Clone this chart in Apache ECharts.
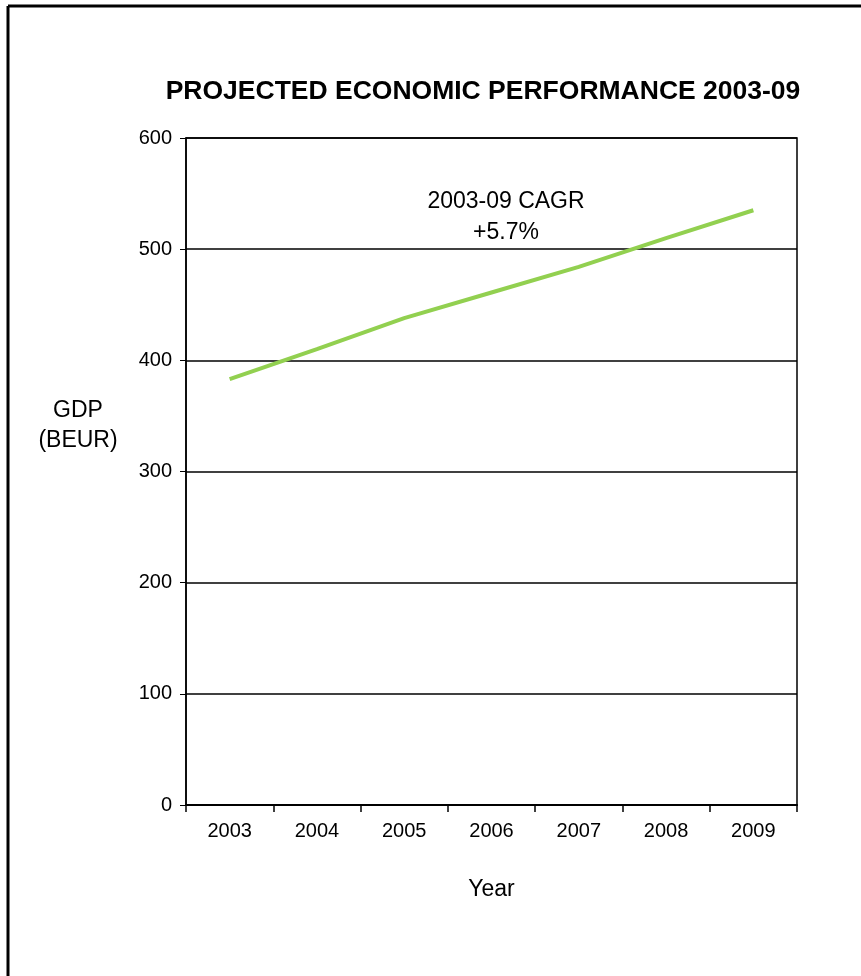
<!DOCTYPE html>
<html>
<head>
<meta charset="utf-8">
<script src="https://cdn.jsdelivr.net/npm/echarts@6/dist/echarts.min.js"></script>
<style>
  html, body { margin: 0; padding: 0; background: #fff; }
  #chart { width: 861px; height: 976px; }
</style>
</head>
<body>
<div id="chart"></div>
<script>
// GDP projection, billions of euros
const years = ['2003', '2004', '2005', '2006', '2007', '2008', '2009'];
const gdp = [383, 410, 438, 461, 484, 510, 535];
const yTicks = [0, 100, 200, 300, 400, 500, 600];

const chart = echarts.init(document.getElementById('chart'));
const font = 'Arial, "Liberation Sans", sans-serif';

chart.setOption({
  animation: false,
  backgroundColor: '#fff',
  title: {
    text: 'PROJECTED ECONOMIC PERFORMANCE 2003-09',
    left: 478,
    top: 73,
    textAlign: 'center',
    textStyle: { fontFamily: font, fontSize: 26.5, fontWeight: 'bold', color: '#000' }
  },
  grid: {
    left: 186, right: 64, top: 138, bottom: 171,
    show: true, borderColor: '#000', borderWidth: 1.5
  },
  xAxis: {
    type: 'category',
    data: years,
    boundaryGap: true,
    axisLine: { lineStyle: { color: '#000', width: 2 } },
    axisTick: { show: true, length: 7, lineStyle: { color: '#000', width: 1.5 } },
    axisLabel: { color: '#000', fontFamily: font, fontSize: 20, margin: 16 },
    name: 'Year',
    nameLocation: 'middle',
    nameGap: 73,
    nameTextStyle: { color: '#000', fontFamily: font, fontSize: 23 }
  },
  yAxis: {
    type: 'value',
    min: yTicks[0],
    max: yTicks[yTicks.length - 1],
    interval: 100,
    axisLine: { show: true, lineStyle: { color: '#000', width: 1.5 } },
    axisTick: { show: true, length: 6, lineStyle: { color: '#000', width: 1 } },
    axisLabel: { color: '#000', fontFamily: font, fontSize: 20, margin: 14 },
    splitLine: { show: true, lineStyle: { color: '#000', width: 1.5 } }
  },
  series: [{
    type: 'line',
    data: gdp,
    showSymbol: false,
    symbol: 'none',
    lineStyle: { color: '#92D050', width: 4 },
    z: 5
  }],
  graphic: [
    { type: 'line', shape: { x1: 8, y1: 6, x2: 861, y2: 6 }, style: { stroke: '#000', lineWidth: 3 } },
    { type: 'line', shape: { x1: 8, y1: 6, x2: 8, y2: 976 }, style: { stroke: '#000', lineWidth: 3 } },
    {
      type: 'text',
      style: {
        x: 78, y: 426,
        text: 'GDP\n(BEUR)', fill: '#000', font: '23px ' + font,
        align: 'center', verticalAlign: 'middle', lineHeight: 30
      }
    },
    {
      type: 'text',
      style: {
        x: 506, y: 217,
        text: '2003-09 CAGR\n+5.7%', fill: '#000', font: '23px ' + font,
        align: 'center', verticalAlign: 'middle', lineHeight: 31
      }
    }
  ]
});
</script>
</body>
</html>
